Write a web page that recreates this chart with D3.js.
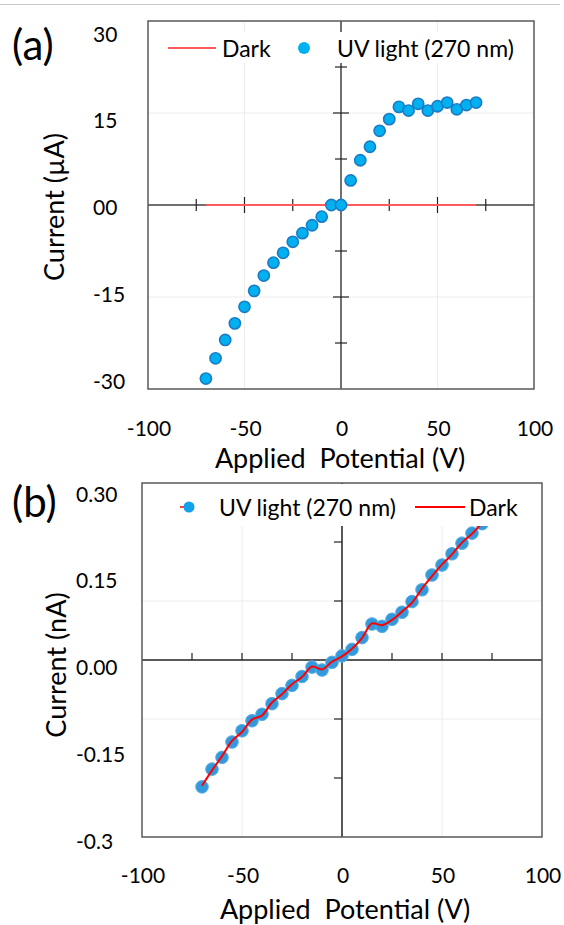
<!DOCTYPE html>
<html>
<head>
<meta charset="utf-8">
<script src="https://cdn.jsdelivr.net/npm/d3@7"></script>
<style>
body { margin:0; background:#fff; }
text { font-family: Lato, "Open Sans", sans-serif; fill:#000; }
</style>
</head>
<body>
<script>
// Applied potential (V), shared by both panels
const potential = [-70,-65,-60,-55,-50,-45,-40,-35,-30,-25,-20,-15,-10,-5,0,5,10,15,20,25,30,35,40,45,50,55,60,65,70];

// Panel (a): current in uA
const uvA = [-28.3,-25.0,-22.0,-19.3,-16.6,-14.0,-11.5,-9.4,-7.8,-6.0,-4.6,-3.3,-1.9,0.0,0.0,4.0,7.3,9.5,12.1,14.0,16.0,15.4,16.5,15.4,16.1,16.7,15.6,16.3,16.7];
const darkA = [0,0,0,0,0,0,0,0,0,0,0,0,0,0,0,0,0,0,0,0,0,0,0,0,0,0,0,0,0];

// Panel (b): current in nA
const uvB = [-0.215,-0.185,-0.165,-0.139,-0.120,-0.103,-0.092,-0.074,-0.057,-0.043,-0.028,-0.012,-0.017,-0.004,0.007,0.018,0.038,0.061,0.057,0.069,0.081,0.099,0.119,0.144,0.161,0.180,0.198,0.215,0.231];
const darkB = [-0.213,-0.187,-0.163,-0.137,-0.122,-0.101,-0.094,-0.072,-0.058,-0.041,-0.029,-0.011,-0.016,-0.003,0.006,0.019,0.037,0.062,0.059,0.068,0.082,0.097,0.121,0.142,0.162,0.179,0.199,0.214,0.232];

// tick labels
const xTicks = [-100,-50,0,50,100];
const yTicksA = [30,15,0,-15,-30];
const yLabelsA = ["30","15","00","-15","-30"];
const yTicksB = [0.3,0.15,0,-0.15,-0.3];
const yLabelsB = ["0.30","0.15","0.00","-0.15","-0.3"];

const width = 564, height = 925;

const svg = d3.select("body")
  .append("svg")
  .attr("width", width)
  .attr("height", height);

// thin separator at the very top
svg.append("line")
  .attr("x1", 0).attr("x2", 560)
  .attr("y1", 4.5).attr("y2", 4.5)
  .attr("stroke", "#c8c8c8").attr("stroke-width", 1);

const xyA = potential.map(function(d,i){ return {x:d, y:uvA[i]}; });
const xyDarkA = potential.map(function(d,i){ return {x:d, y:darkA[i]}; });
const xyB = potential.map(function(d,i){ return {x:d, y:uvB[i]}; });
const xyDarkB = potential.map(function(d,i){ return {x:d, y:darkB[i]}; });

// ---------- Panel (a) ----------
const xA = d3.scaleLinear().domain([-100,100]).range([148,534]);
const yA = d3.scaleLinear().domain([-30,30]).range([389,21]);
const yLabA = d3.scaleLinear().domain([-30,30]).range([380,33]);

const gA = svg.append("g");

// grid
gA.selectAll("line.gx").data([-50,50]).enter().append("line")
  .attr("x1", d => xA(d)).attr("x2", d => xA(d))
  .attr("y1", yA(30)).attr("y2", yA(-30))
  .attr("stroke", "#ececec").attr("stroke-width", 1);
gA.selectAll("line.gy").data([-15,15]).enter().append("line")
  .attr("x1", xA(-100)).attr("x2", xA(100))
  .attr("y1", d => yA(d)).attr("y2", d => yA(d))
  .attr("stroke", "#ececec").attr("stroke-width", 1);

// axes through origin
gA.append("line")
  .attr("x1", xA(-100)).attr("x2", xA(100))
  .attr("y1", yA(0)).attr("y2", yA(0))
  .attr("stroke", "#404040").attr("stroke-width", 1.5);
gA.append("line")
  .attr("x1", xA(0)).attr("x2", xA(0))
  .attr("y1", yA(30)).attr("y2", yA(-30))
  .attr("stroke", "#404040").attr("stroke-width", 1.5);

// crossing ticks
gA.selectAll("line.tx").data([-75,-50,-25,25,50,75]).enter().append("line")
  .attr("x1", d => xA(d)).attr("x2", d => xA(d))
  .attr("y1", d => yA(0) - (Math.abs(d)===50 ? 8 : 6))
  .attr("y2", d => yA(0) + (Math.abs(d)===50 ? 8 : 6))
  .attr("stroke", "#222").attr("stroke-width", 1.2);
gA.selectAll("line.ty").data([-22.5,-15,-7.5,7.5,15,22.5]).enter().append("line")
  .attr("y1", d => yA(d)).attr("y2", d => yA(d))
  .attr("x1", d => xA(0) - (Math.abs(d)===15 ? 8 : 6))
  .attr("x2", d => xA(0) + (Math.abs(d)===15 ? 8 : 6))
  .attr("stroke", "#222").attr("stroke-width", 1.2);

// dark current
gA.append("path")
  .datum(xyDarkA)
  .attr("fill", "none")
  .attr("stroke", "#ff5a5a")
  .attr("stroke-width", 2)
  .attr("d", d3.line().x(d => xA(d.x)).y(d => yA(d.y)));

// UV points
gA.selectAll("circle.uv").data(xyA).enter().append("circle")
  .attr("cx", d => xA(d.x)).attr("cy", d => yA(d.y))
  .attr("r", 5.6)
  .attr("fill", "#00b0f0")
  .attr("stroke", "#1b7cc4")
  .attr("stroke-width", 1.6);

// box
gA.append("rect")
  .attr("x", xA(-100)).attr("y", yA(30))
  .attr("width", xA(100)-xA(-100)).attr("height", yA(-30)-yA(30))
  .attr("fill", "none").attr("stroke", "#595959").attr("stroke-width", 1.5);

// legend
gA.append("rect")
  .attr("x", 158).attr("y", 32).attr("width", 366).attr("height", 31)
  .attr("fill", "#fff");
gA.append("line")
  .attr("x1", 168).attr("x2", 216).attr("y1", 48).attr("y2", 48)
  .attr("stroke", "#ff5a5a").attr("stroke-width", 2);
gA.append("text").attr("x", 222).attr("y", 48)
  .attr("dominant-baseline", "central").attr("font-size", 23).text("Dark");
gA.append("circle").attr("cx", 304).attr("cy", 48).attr("r", 6).attr("fill", "#00b0f0");
gA.append("text").attr("x", 337).attr("y", 48)
  .attr("dominant-baseline", "central").attr("font-size", 23).text("UV light (270 nm)");

// tick labels
gA.selectAll("text.yl").data(yTicksA).enter().append("text")
  .attr("x", 93).attr("y", d => yLabA(d))
  .attr("dominant-baseline", "central").attr("font-size", 21)
  .text((d,i) => yLabelsA[i]);
gA.selectAll("text.xl").data(xTicks).enter().append("text")
  .attr("x", d => xA(d) + 1).attr("y", 427)
  .attr("text-anchor", "middle").attr("dominant-baseline", "central").attr("font-size", 21)
  .text(d => d);

// titles
gA.append("text").attr("x", 340).attr("y", 457)
  .attr("text-anchor", "middle").attr("dominant-baseline", "central").attr("font-size", 27)
  .attr("xml:space", "preserve").text("Applied  Potential (V)");
gA.append("text").attr("transform", "translate(53,207) rotate(-90)")
  .attr("text-anchor", "middle").attr("dominant-baseline", "central").attr("font-size", 27)
  .text("Current (\u00b5A)");
gA.append("text").attr("x", 12).attr("y", 44)
  .attr("dominant-baseline", "central").attr("font-size", 42).text("(a)");

// ---------- Panel (b) ----------
const xB = d3.scaleLinear().domain([-100,100]).range([142,542]);
const yB = d3.scaleLinear().domain([-0.3,0.3]).range([837,483]);
const yLabB = d3.scaleLinear().domain([-0.3,0.3]).range([840,493]);

const gB = svg.append("g");

gB.selectAll("line.gx").data([-50,50]).enter().append("line")
  .attr("x1", d => xB(d)).attr("x2", d => xB(d))
  .attr("y1", yB(0.3)).attr("y2", yB(-0.3))
  .attr("stroke", "#ececec").attr("stroke-width", 1);
gB.selectAll("line.gy").data([-0.1,0.1]).enter().append("line")
  .attr("x1", xB(-100)).attr("x2", xB(100))
  .attr("y1", d => yB(d)).attr("y2", d => yB(d))
  .attr("stroke", "#ececec").attr("stroke-width", 1);

gB.append("line")
  .attr("x1", xB(-100)).attr("x2", xB(100))
  .attr("y1", yB(0)).attr("y2", yB(0))
  .attr("stroke", "#222").attr("stroke-width", 1.5);
gB.append("line")
  .attr("x1", xB(0)).attr("x2", xB(0))
  .attr("y1", yB(0.3)).attr("y2", yB(-0.3))
  .attr("stroke", "#222").attr("stroke-width", 1.5);

gB.selectAll("line.tx").data([-75,-50,-25,25,50,75]).enter().append("line")
  .attr("x1", d => xB(d)).attr("x2", d => xB(d))
  .attr("y1", yB(0) - 7).attr("y2", yB(0))
  .attr("stroke", "#222").attr("stroke-width", 1.2);
gB.selectAll("line.ty").data([-0.2,-0.1,0.1,0.2]).enter().append("line")
  .attr("y1", d => yB(d)).attr("y2", d => yB(d))
  .attr("x1", xB(0) - 8).attr("x2", xB(0))
  .attr("stroke", "#222").attr("stroke-width", 1.2);

gB.selectAll("circle.uv").data(xyB).enter().append("circle")
  .attr("cx", d => xB(d.x)).attr("cy", d => yB(d.y))
  .attr("r", 6.3)
  .attr("fill", "#3399dc")
  .attr("stroke", "#55aee4")
  .attr("stroke-width", 1);

gB.append("path")
  .datum(xyDarkB)
  .attr("fill", "none")
  .attr("stroke", "#ff0000")
  .attr("stroke-width", 2)
  .attr("d", d3.line().curve(d3.curveCatmullRom).x(d => xB(d.x)).y(d => yB(d.y)));

gB.append("rect")
  .attr("x", xB(-100)).attr("y", yB(0.3))
  .attr("width", xB(100)-xB(-100)).attr("height", yB(-0.3)-yB(0.3))
  .attr("fill", "none").attr("stroke", "#595959").attr("stroke-width", 1.5);

// legend
gB.append("rect")
  .attr("x", 170).attr("y", 484).attr("width", 360).attr("height", 42)
  .attr("fill", "#fff");
gB.append("line")
  .attr("x1", 180).attr("x2", 186).attr("y1", 507).attr("y2", 507)
  .attr("stroke", "#ff0000").attr("stroke-width", 1.5);
gB.append("circle").attr("cx", 189).attr("cy", 507).attr("r", 5.5).attr("fill", "#12a2ec");
gB.append("text").attr("x", 219).attr("y", 507)
  .attr("dominant-baseline", "central").attr("font-size", 23).text("UV light (270 nm)");
gB.append("line")
  .attr("x1", 415).attr("x2", 465).attr("y1", 507).attr("y2", 507)
  .attr("stroke", "#ff0000").attr("stroke-width", 2);
gB.append("text").attr("x", 469).attr("y", 507)
  .attr("dominant-baseline", "central").attr("font-size", 23).text("Dark");

gB.selectAll("text.yl").data(yTicksB).enter().append("text")
  .attr("x", 76).attr("y", d => yLabB(d))
  .attr("dominant-baseline", "central").attr("font-size", 21)
  .text((d,i) => yLabelsB[i]);
gB.selectAll("text.xl").data(xTicks).enter().append("text")
  .attr("x", d => xB(d) + 1).attr("y", 874)
  .attr("text-anchor", "middle").attr("dominant-baseline", "central").attr("font-size", 21)
  .text(d => d);

gB.append("text").attr("x", 345).attr("y", 908)
  .attr("text-anchor", "middle").attr("dominant-baseline", "central").attr("font-size", 27)
  .attr("xml:space", "preserve").text("Applied  Potential (V)");
gB.append("text").attr("transform", "translate(55,665) rotate(-90)")
  .attr("text-anchor", "middle").attr("dominant-baseline", "central").attr("font-size", 27)
  .text("Current (nA)");
gB.append("text").attr("x", 12).attr("y", 501)
  .attr("dominant-baseline", "central").attr("font-size", 42).text("(b)");
</script>
</body>
</html>
